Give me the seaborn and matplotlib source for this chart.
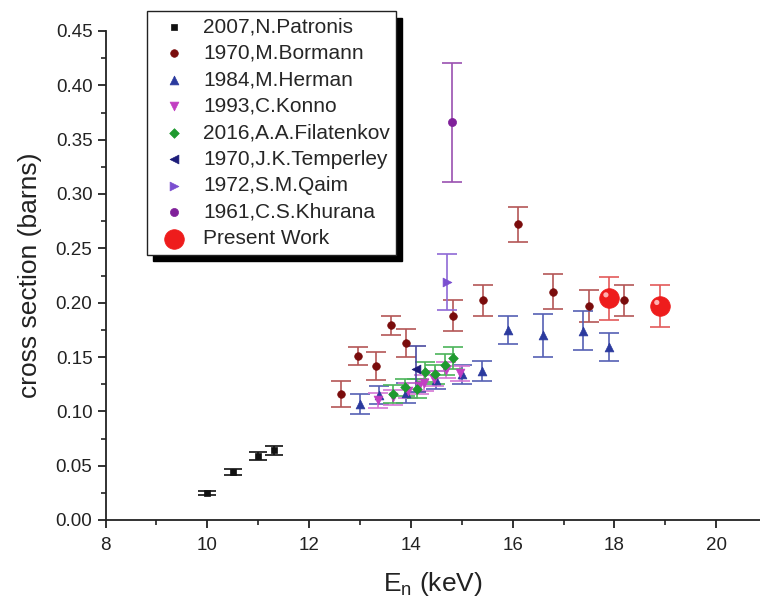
import matplotlib
matplotlib.use("Agg")
import matplotlib.pyplot as plt
from matplotlib.ticker import MultipleLocator
from matplotlib.transforms import ScaledTranslation
import seaborn as sns

# ---- data ----
patronis_E = [10.0, 10.5, 11.0, 11.3]
patronis_s = [0.025, 0.044, 0.059, 0.064]
patronis_err = [0.002, 0.003, 0.004, 0.004]

bormann_E = [12.62, 12.96, 13.32, 13.61, 13.90, 14.82, 15.42, 16.11, 16.79, 17.49, 18.18]
bormann_s = [0.116, 0.151, 0.142, 0.179, 0.163, 0.188, 0.202, 0.272, 0.210, 0.197, 0.202]
bormann_err = [0.012, 0.008, 0.013, 0.009, 0.013, 0.014, 0.014, 0.016, 0.016, 0.015, 0.014]

herman_E = [13.00, 13.38, 13.90, 14.50, 15.00, 15.40, 15.90, 16.60, 17.39, 17.90]
herman_s = [0.107, 0.115, 0.117, 0.129, 0.134, 0.137, 0.175, 0.170, 0.174, 0.159]
herman_err = [0.009, 0.008, 0.009, 0.008, 0.009, 0.009, 0.013, 0.020, 0.018, 0.013]

konno_E = [13.35, 13.65, 13.95, 14.15, 14.25, 14.45, 14.68, 14.97]
konno_s = [0.110, 0.113, 0.119, 0.123, 0.126, 0.130, 0.138, 0.135]
konno_err = [0.007, 0.007, 0.007, 0.007, 0.007, 0.007, 0.007, 0.007]

filatenkov_E = [13.64, 13.89, 14.12, 14.28, 14.48, 14.67, 14.82]
filatenkov_s = [0.116, 0.122, 0.121, 0.136, 0.134, 0.143, 0.149]
filatenkov_err = [0.008, 0.008, 0.009, 0.009, 0.009, 0.010, 0.010]

temperley_E = [14.10]
temperley_s = [0.139]
temperley_err = [0.021]

qaim_E = [14.71]
qaim_s = [0.219]
qaim_err = [0.026]

khurana_E = [14.80]
khurana_s = [0.366]
khurana_err = [0.055]

present_E = [17.90, 18.90]
present_s = [0.204, 0.197]
present_err = [0.020, 0.019]

labels = ["2007,N.Patronis", "1970,M.Bormann", "1984,M.Herman", "1993,C.Konno",
          "2016,A.A.Filatenkov", "1970,J.K.Temperley", "1972,S.M.Qaim",
          "1961,C.S.Khurana", "Present Work"]

x_ticks = [8, 10, 12, 14, 16, 18, 20]
y_ticks = [0.00, 0.05, 0.10, 0.15, 0.20, 0.25, 0.30, 0.35, 0.40, 0.45]

# ---- style ----
sns.set_style("ticks")
plt.rcParams['font.family'] = ['Liberation Sans', 'DejaVu Sans']

fig = plt.figure(figsize=(7.6, 6.03), dpi=100)
ax = fig.add_axes([105.6 / 760, 83 / 603, 1 - 105.6 / 760, 489 / 603])

series = [
    (patronis_E, patronis_s, patronis_err, "s", "#111111", "#111111", 22, 6.5),
    (bormann_E, bormann_s, bormann_err, "o", "#7a0c0c", "#b45656", 30, 7.5),
    (herman_E, herman_s, herman_err, "^", "#2b3a9e", "#5560b4", 40, 7.5),
    (konno_E, konno_s, konno_err, "v", "#c23fc2", "#d477d4", 40, 7.5),
    (filatenkov_E, filatenkov_s, filatenkov_err, "D", "#1f9a2f", "#4cb45a", 24, 7.5),
    (temperley_E, temperley_s, temperley_err, "<", "#1c1c7a", "#4a4aa0", 40, 7.5),
    (qaim_E, qaim_s, qaim_err, ">", "#7b4fd0", "#8f6ad6", 40, 7.5),
    (khurana_E, khurana_s, khurana_err, "o", "#80209a", "#9a50b0", 34, 7.5),
    (present_E, present_s, present_err, "o", "#ee1c1c", "#e35a5a", 200, 7.5),
]

for (E, s, err, mk, mc, ec, size, cap), lab in zip(series, labels):
    ax.errorbar(E, s, yerr=err, fmt="none", ecolor=ec, elinewidth=1.2,
                capsize=cap, capthick=1.2, zorder=2)
    sns.scatterplot(x=E, y=s, marker=mk, color=mc, s=size, edgecolor=mc,
                    linewidth=0.5, label=lab, ax=ax, zorder=3)

# glossy highlight on the present-work spheres (shifted up-left)
n_before = len(ax.collections)
sns.scatterplot(x=present_E, y=present_s, marker="o", color="#ffb0b0", s=14,
                edgecolor="none", ax=ax, zorder=4, legend=False)
hl = ax.collections[n_before]
hl.set_offset_transform(ax.transData +
                        ScaledTranslation(-2.5 / 72, 2.5 / 72, fig.dpi_scale_trans))

ax.set_xlim(8, 20.86)
ax.set_ylim(0, 0.45)
ax.set_xticks(x_ticks)
ax.set_xticklabels([str(v) for v in x_ticks])
ax.set_yticks(y_ticks)
ax.set_yticklabels([f"{v:.2f}" for v in y_ticks])
ax.xaxis.set_minor_locator(MultipleLocator(1))
ax.yaxis.set_minor_locator(MultipleLocator(0.025))
ax.tick_params(which="major", direction="out", length=6, width=1.3,
               labelsize=13.5, colors="#222222", labelcolor="#222222")
ax.tick_params(axis="x", which="major", pad=6)
ax.tick_params(which="minor", direction="out", length=3.5, width=1.2,
               colors="#222222")
for sp in ["top", "right"]:
    ax.spines[sp].set_visible(False)
for sp in ["left", "bottom"]:
    ax.spines[sp].set_linewidth(1.3)
    ax.spines[sp].set_color("#222222")

ax.set_xlabel("E$_\\mathregular{n}$ (keV)", fontsize=19, color="#222222", labelpad=12)
ax.set_ylabel("cross section (barns)", fontsize=19, color="#222222", labelpad=10)

leg = ax.legend(loc="upper left", bbox_to_anchor=(147 / 760, 1 - 11 / 603),
                bbox_transform=fig.transFigure, borderaxespad=0,
                fontsize=15, frameon=True, fancybox=False,
                handletextpad=0.4, labelspacing=0.36, borderpad=0.3,
                shadow={"facecolor": "black", "edgecolor": "black", "alpha": 1,
                        "ox": 4, "oy": -5})
leg.get_frame().set_edgecolor("#222222")
leg.get_frame().set_linewidth(1.0)
leg.get_frame().set_alpha(1)

fig.savefig("out.png", dpi=100)
